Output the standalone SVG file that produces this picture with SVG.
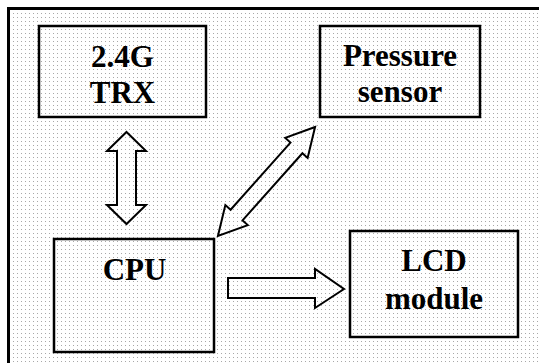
<svg xmlns="http://www.w3.org/2000/svg" width="539" height="363" viewBox="0 0 539 363">
<defs>
<pattern id="dots" x="0" y="0" width="4" height="4" patternUnits="userSpaceOnUse">
<rect x="1" y="1" width="1" height="1" fill="#a8a8a8"/>
</pattern>
</defs>
<style>
.box{fill:none;stroke:#000;stroke-width:2.5}
.arr{fill:none;stroke:#000;stroke-width:2;stroke-linejoin:miter}
.t{font-family:'Liberation Serif','Times New Roman',serif;font-weight:bold;font-size:31px;text-anchor:middle;fill:#000}
</style>
<rect x="0" y="0" width="539" height="363" fill="#fff"/>
<rect x="9" y="9" width="530" height="354" fill="url(#dots)"/>
<path d="M8.5 363 V8.5 H539" fill="none" stroke="#000" stroke-width="3"/>
<g id="trx">
<rect class="box" x="39" y="26" width="167" height="91"/>
<text class="t" x="122.5" y="67">2.4G</text>
<text class="t" x="122.5" y="103">TRX</text>
</g>
<g id="pressure">
<rect class="box" x="320" y="26" width="160" height="91"/>
<text class="t" x="400" y="66">Pressure</text>
<text class="t" x="400" y="102">sensor</text>
</g>
<g id="cpu">
<rect class="box" x="54" y="239" width="160" height="113"/>
<text class="t" x="134.5" y="280">CPU</text>
</g>
<g id="lcd">
<rect class="box" x="350" y="231" width="168" height="106"/>
<text class="t" x="434" y="271">LCD</text>
<text class="t" x="434" y="309">module</text>
</g>
<g id="connectors">
<path class="arr" d="M126.5 132 L146 151 L136 151 L136 205 L146 205 L126.5 224 L107 205 L117 205 L117 151 L107 151 Z"/>
<path class="arr" transform="translate(266.5 181.5) rotate(-48.3)" d="M73 0 L45 -15 L45 -8 L-45 -8 L-45 -15 L-73 0 L-45 15 L-45 8 L45 8 L45 15 Z"/>
<path class="arr" d="M228 278 L315 278 L315 269 L344 289 L315 308 L315 298 L228 298 Z"/>
</g>
</svg>
